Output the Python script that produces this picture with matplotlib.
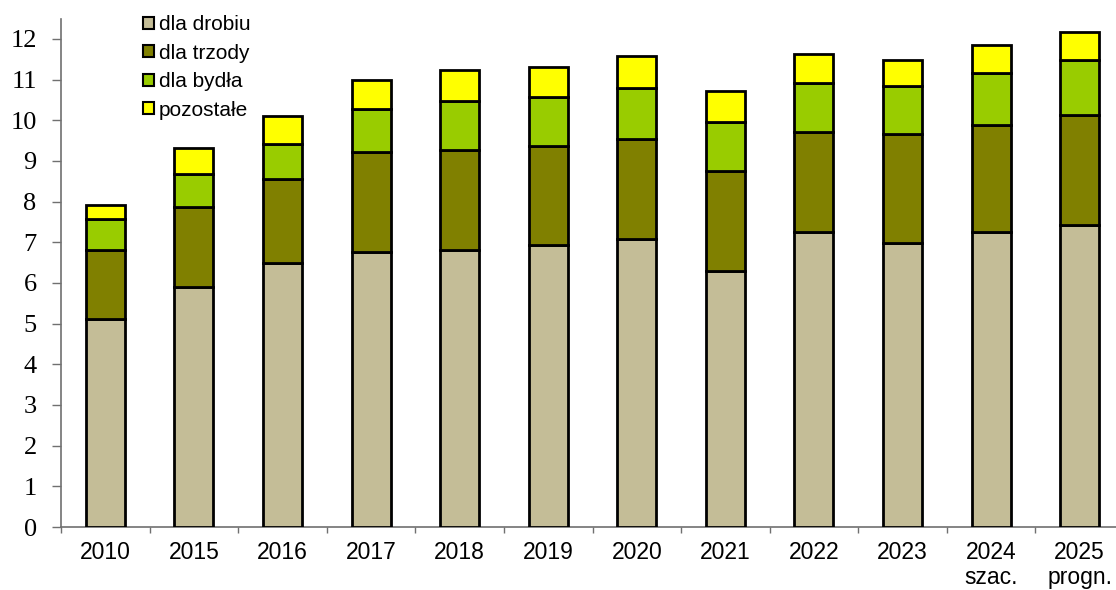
import matplotlib
matplotlib.use("Agg")
import matplotlib.pyplot as plt
from matplotlib.patches import Patch
import numpy as np

# Pasze przemysłowe – produkcja wg przeznaczenia (mln t)
years = ["2010", "2015", "2016", "2017", "2018", "2019", "2020", "2021",
         "2022", "2023", "2024\nszac.", "2025\nprogn."]
series_names = ["dla drobiu", "dla trzody", "dla bydła", "pozostałe"]
drob = [5.12, 5.90, 6.50, 6.75, 6.81, 6.94, 7.07, 6.29, 7.25, 6.98, 7.26, 7.43]
trzoda = [1.68, 1.96, 2.05, 2.46, 2.47, 2.42, 2.48, 2.46, 2.47, 2.68, 2.63, 2.70]
bydlo = [0.77, 0.83, 0.86, 1.06, 1.19, 1.21, 1.24, 1.21, 1.19, 1.19, 1.28, 1.34]
pozostale = [0.34, 0.62, 0.69, 0.73, 0.76, 0.73, 0.79, 0.77, 0.73, 0.63, 0.68, 0.69]
y_ticks = list(range(0, 13))

colors = ["#C4BD97", "#808000", "#99CC00", "#FFFF00"]

W, H = 1116, 590
fig = plt.figure(figsize=(W / 100, H / 100), dpi=100)
ax_left, ax_bottom = 61 / W, 63 / H
ax_w, ax_h = 1063 / W, 508.4 / H
ax = fig.add_axes([ax_left, ax_bottom, ax_w, ax_h])

x = np.arange(len(years))
bottom = np.zeros(len(years))
for vals, col, name in zip([drob, trzoda, bydlo, pozostale], colors, series_names):
    ax.bar(x, vals, width=0.44, bottom=bottom, color=col, edgecolor="black",
           linewidth=2.0, label=name, zorder=3)
    bottom += np.array(vals)

ax.set_xlim(-0.5, len(years) - 0.5)
ax.set_ylim(0, 12.5)

for side in ["top", "right"]:
    ax.spines[side].set_visible(False)
for side in ["left", "bottom"]:
    ax.spines[side].set_color("#707070")
    ax.spines[side].set_linewidth(1.2)

ax.set_yticks(y_ticks)
ax.set_yticklabels([str(v) for v in y_ticks], fontfamily="Liberation Serif", fontsize=19)
ax.tick_params(axis="y", direction="out", length=6.5, width=1.0, color="#707070", pad=11)

ax.set_xticks(x)
ax.set_xticklabels(years, fontfamily="Liberation Sans", fontsize=16.5, linespacing=1.1)
ax.tick_params(axis="x", which="major", length=0, pad=10)
ax.set_xticks(np.arange(-0.5, len(years) + 0.5, 1.0), minor=True)
ax.tick_params(axis="x", which="minor", direction="out", length=4.5, width=1.0, color="#707070")

handles = [Patch(facecolor=c, edgecolor="black", linewidth=1.5) for c in colors]
leg = fig.legend(handles, series_names, loc="upper left",
                 bbox_to_anchor=(143 / W, 1 - 15 / H), frameon=False,
                 prop={"family": "Liberation Sans", "size": 15},
                 handlelength=0.52, handleheight=0.52, handletextpad=0.25,
                 labelspacing=0.46, borderpad=0.0, borderaxespad=0.0)

fig.savefig("out.png", dpi=100)
